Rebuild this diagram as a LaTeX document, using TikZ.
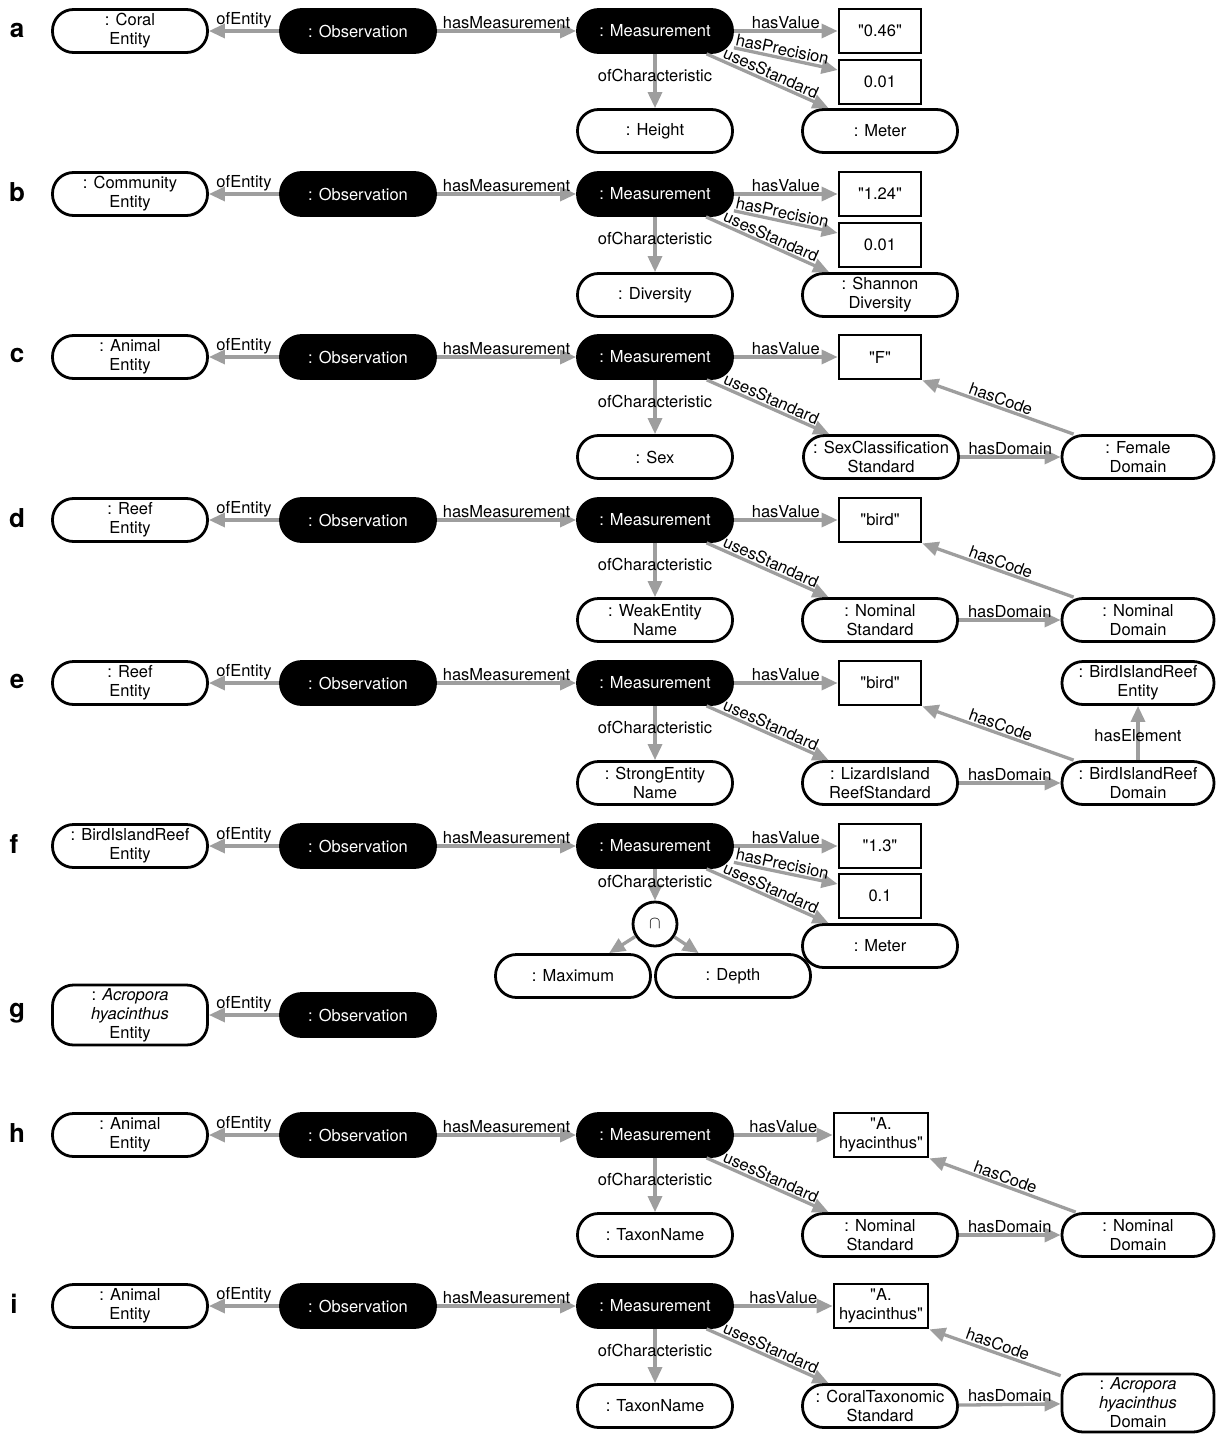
\documentclass[tikz,border=0pt]{standalone}
\usepackage{fontspec}
\setmainfont{TeX Gyre Heros}
\usetikzlibrary{arrows.meta}
\definecolor{agray}{RGB}{158,158,158}
\newcommand\lblfont{\fontsize{16.5}{19}\selectfont}
\newcommand\q{\textquotedbl}
\begin{document}
\begin{tikzpicture}[x=1pt,y=-1pt,
 pill/.style={draw, rectangle, rounded corners=21pt, line width=2.8pt, fill=white, minimum width=155pt, minimum height=43pt, inner xsep=3pt, inner ysep=2pt, align=center, font=\lblfont},
 blk/.style={pill, fill=black, text=white},
 vbox/.style={draw, rectangle, line width=2.8pt, fill=white, minimum width=82pt, minimum height=44pt, inner xsep=5pt, align=center, font=\lblfont},
 arr/.style={draw=agray, line width=3.3pt, -{Triangle[length=16pt,width=14pt]}, nodes={font=\lblfont, inner sep=1pt, text=black}},
 plet/.style={font=\fontsize{26}{26}\selectfont\bfseries}]
\useasboundingbox (0,0) rectangle (1216,1434);

% ---------- a ----------
\node[plet] (la) at (17,30) {a};
\node[pill] (aE) at (130,31) {: Coral\\Entity};
\node[blk] (aO) at (358,31) {: Observation};
\node[blk] (aM) at (655,31) {: Measurement};
\node[vbox] (aV) at (880,31) {\q0.46\q};
\node[vbox] (aP) at (880,82) {0.01};
\node[pill] (aC) at (655,131) {: Height};
\node[pill] (aS) at (880,131) {: Meter};
\draw[arr] (aO) -- node[above]{ofEntity} (aE);
\draw[arr] (aO) -- node[above]{hasMeasurement} (aM);
\draw[arr] (aM) -- node[above]{hasValue} (aV);
\draw[arr] (aM) -- node[sloped,above,pos=0.45]{hasPrecision} ([yshift=12pt]aP.west);
\draw[arr] (aM) -- node[sloped,above]{usesStandard} (aS);
\draw[arr] (aM) -- node[pos=0.4]{ofCharacteristic} (aC);

% ---------- b ----------
\node[plet] (lb) at (17,192) {b};
\node[pill] (bE) at (130,194) {: Community\\Entity};
\node[blk] (bO) at (358,194) {: Observation};
\node[blk] (bM) at (655,194) {: Measurement};
\node[vbox] (bV) at (880,194) {\q1.24\q};
\node[vbox] (bP) at (880,245) {0.01};
\node[pill] (bC) at (655,295) {: Diversity};
\node[pill] (bS) at (880,295) {: Shannon\\Diversity};
\draw[arr] (bO) -- node[above]{ofEntity} (bE);
\draw[arr] (bO) -- node[above]{hasMeasurement} (bM);
\draw[arr] (bM) -- node[above]{hasValue} (bV);
\draw[arr] (bM) -- node[sloped,above,pos=0.45]{hasPrecision} ([yshift=12pt]bP.west);
\draw[arr] (bM) -- node[sloped,above]{usesStandard} (bS);
\draw[arr] (bM) -- node[pos=0.4]{ofCharacteristic} (bC);

% ---------- c ----------
\node[plet] (lc) at (17,355) {c};
\node[pill] (cE) at (130,357) {: Animal\\Entity};
\node[blk] (cO) at (358,357) {: Observation};
\node[blk] (cM) at (655,357) {: Measurement};
\node[vbox] (cV) at (880,357) {\q F\q};
\node[pill] (cC) at (655,457) {: Sex};
\node[pill] (cS) at (881,457) {: SexClassification\\Standard};
\node[pill, minimum width=152pt] (cD) at (1138,457) {: Female\\Domain};
\draw[arr] (cO) -- node[above]{ofEntity} (cE);
\draw[arr] (cO) -- node[above]{hasMeasurement} (cM);
\draw[arr] (cM) -- node[above]{hasValue} (cV);
\draw[arr] (cM) -- node[sloped,above]{usesStandard} (cS);
\draw[arr] (cM) -- node[pos=0.4]{ofCharacteristic} (cC);
\draw[arr] (cS) -- node[above]{hasDomain} (cD);
\draw[arr] (cD) -- node[sloped,above]{hasCode} (cV.south east);

% ---------- d ----------
\node[plet] (ld) at (17,518) {d};
\node[pill] (dE) at (130,520) {: Reef\\Entity};
\node[blk] (dO) at (358,520) {: Observation};
\node[blk] (dM) at (655,520) {: Measurement};
\node[vbox] (dV) at (880,520) {\q bird\q};
\node[pill] (dC) at (655,620) {: WeakEntity\\Name};
\node[pill] (dS) at (880,620) {: Nominal\\Standard};
\node[pill, minimum width=152pt] (dD) at (1138,620) {: Nominal\\Domain};
\draw[arr] (dO) -- node[above]{ofEntity} (dE);
\draw[arr] (dO) -- node[above]{hasMeasurement} (dM);
\draw[arr] (dM) -- node[above]{hasValue} (dV);
\draw[arr] (dM) -- node[sloped,above]{usesStandard} (dS);
\draw[arr] (dM) -- node[pos=0.4]{ofCharacteristic} (dC);
\draw[arr] (dS) -- node[above]{hasDomain} (dD);
\draw[arr] (dD) -- node[sloped,above]{hasCode} (dV.south east);

% ---------- e ----------
\node[plet] (le) at (17,681) {e};
\node[pill] (eE) at (130,683) {: Reef\\Entity};
\node[blk] (eO) at (358,683) {: Observation};
\node[blk] (eM) at (655,683) {: Measurement};
\node[vbox] (eV) at (880,683) {\q bird\q};
\node[pill] (eC) at (655,783) {: StrongEntity\\Name};
\node[pill] (eS) at (880,783) {: LizardIsland\\ReefStandard};
\node[pill, minimum width=152pt] (eD) at (1138,783) {: BirdIslandReef\\Domain};
\node[pill, minimum width=152pt] (eX) at (1138,683) {: BirdIslandReef\\Entity};
\draw[arr] (eO) -- node[above]{ofEntity} (eE);
\draw[arr] (eO) -- node[above]{hasMeasurement} (eM);
\draw[arr] (eM) -- node[above]{hasValue} (eV);
\draw[arr] (eM) -- node[sloped,above]{usesStandard} (eS);
\draw[arr] (eM) -- node[pos=0.4]{ofCharacteristic} (eC);
\draw[arr] (eS) -- node[above]{hasDomain} (eD);
\draw[arr] (eD) -- node[sloped,above]{hasCode} (eV.south east);
\draw[arr] (eD) -- node[pos=0.45]{hasElement} (eX);

% ---------- f ----------
\node[plet] (lf) at (14,844) {f};
\node[pill] (fE) at (130,846) {: BirdIslandReef\\Entity};
\node[blk] (fO) at (358,846) {: Observation};
\node[blk] (fM) at (655,846) {: Measurement};
\node[vbox] (fV) at (880,846) {\q1.3\q};
\node[vbox] (fP) at (880,896) {0.1};
\node[pill] (fS) at (880,946) {: Meter};
\node[draw, circle, line width=2.8pt, fill=white, minimum size=44pt, inner sep=0pt, font=\lblfont] (fI) at (655,924) {$\cap$};
\node[pill] (fX) at (573,976) {: Maximum};
\node[pill] (fY) at (733,976) {: Depth};
\draw[arr] (fO) -- node[above]{ofEntity} (fE);
\draw[arr] (fO) -- node[above]{hasMeasurement} (fM);
\draw[arr] (fM) -- node[above]{hasValue} (fV);
\draw[arr] (fM) -- node[sloped,above,pos=0.45]{hasPrecision} ([yshift=12pt]fP.west);
\draw[arr] (fM) -- node[sloped,above]{usesStandard} (fS);
\draw[arr] (fM) -- node[pos=0.4]{ofCharacteristic} (fI);
\draw[arr] (fI) -- (fX);
\draw[arr] (fI) -- (fY);

% ---------- g ----------
\node[plet] (lg) at (17,1013) {g};
\node[pill, minimum height=60pt] (gE) at (130,1015) {: \textit{Acropora}\\\textit{hyacinthus}\\Entity};
\node[blk] (gO) at (358,1015) {: Observation};
\draw[arr] (gO) -- node[above]{ofEntity} (gE);

% ---------- h ----------
\node[plet] (lh) at (17,1133) {h};
\node[pill] (hE) at (130,1135) {: Animal\\Entity};
\node[blk] (hO) at (358,1135) {: Observation};
\node[blk] (hM) at (655,1135) {: Measurement};
\node[vbox] (hV) at (881,1135) {\q A.\\hyacinthus\q};
\node[pill] (hC) at (655,1235) {: TaxonName};
\node[pill] (hS) at (880,1235) {: Nominal\\Standard};
\node[pill, minimum width=152pt] (hD) at (1138,1235) {: Nominal\\Domain};
\draw[arr] (hO) -- node[above]{ofEntity} (hE);
\draw[arr] (hO) -- node[above]{hasMeasurement} (hM);
\draw[arr] (hM) -- node[above]{hasValue} (hV);
\draw[arr] (hM) -- node[sloped,above]{usesStandard} (hS);
\draw[arr] (hM) -- node[pos=0.4]{ofCharacteristic} (hC);
\draw[arr] (hS) -- node[above]{hasDomain} (hD);
\draw[arr] (hD) -- node[sloped,above]{hasCode} (hV.south east);

% ---------- i ----------
\node[plet] (li) at (14,1304) {i};
\node[pill] (iE) at (130,1306) {: Animal\\Entity};
\node[blk] (iO) at (358,1306) {: Observation};
\node[blk] (iM) at (655,1306) {: Measurement};
\node[vbox] (iV) at (881,1306) {\q A.\\hyacinthus\q};
\node[pill] (iC) at (655,1406) {: TaxonName};
\node[pill] (iS) at (880,1406) {: CoralTaxonomic\\Standard};
\node[pill, minimum width=152pt, minimum height=58pt] (iD) at (1138,1403) {: \textit{Acropora}\\\textit{hyacinthus}\\Domain};
\draw[arr] (iO) -- node[above]{ofEntity} (iE);
\draw[arr] (iO) -- node[above]{hasMeasurement} (iM);
\draw[arr] (iM) -- node[above]{hasValue} (iV);
\draw[arr] (iM) -- node[sloped,above]{usesStandard} (iS);
\draw[arr] (iM) -- node[pos=0.4]{ofCharacteristic} (iC);
\draw[arr] (iS) -- node[above]{hasDomain} (iD);
\draw[arr] (iD) -- node[sloped,above]{hasCode} (iV.south east);
\end{tikzpicture}
\end{document}
